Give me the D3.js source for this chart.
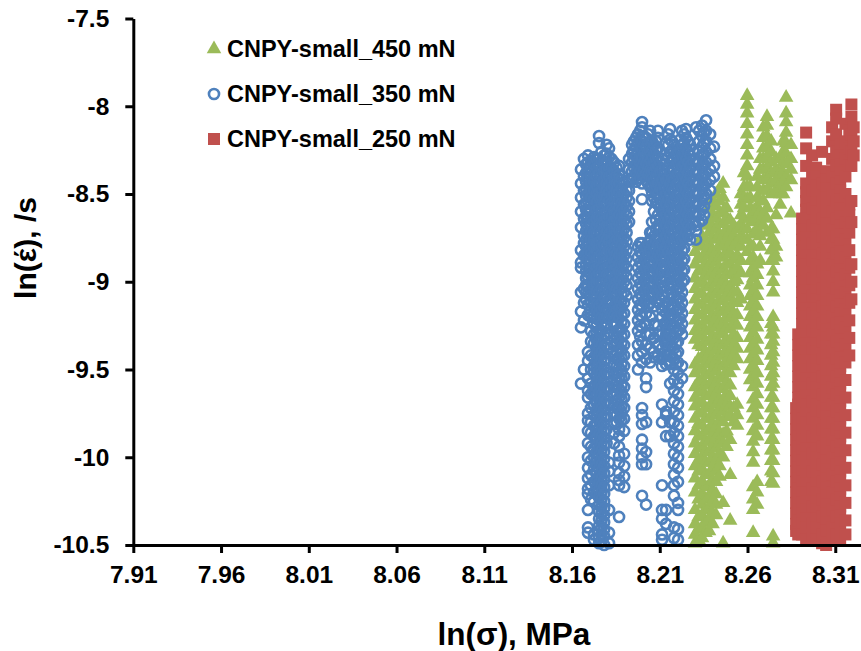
<!DOCTYPE html>
<html>
<head>
<meta charset="utf-8">
<script src="https://cdn.jsdelivr.net/npm/d3@7"></script>
<style>
body { margin: 0; background: #fff; }
text { font-family: "Liberation Sans", Arial, sans-serif; font-weight: bold; fill: #000; }
</style>
</head>
<body>
<div id="chart"></div>
<script>
// values, each row is [ln(sigma), [ln(strain rate) ...]]
var xTicks = [7.91, 7.96, 8.01, 8.06, 8.11, 8.16, 8.21, 8.26, 8.31];
var yTicks = [-7.5, -8, -8.5, -9, -9.5, -10, -10.5];
var yTickLabels = ["-7.5", "-8", "-8.5", "-9", "-9.5", "-10", "-10.5"];
var legendLabels = ["CNPY-small_450 mN", "CNPY-small_350 mN", "CNPY-small_250 mN"];

var green450 = [
  [8.2301, [-8.83,-8.9,-8.98,-9.04,-9.1,-9.16,-9.22,-9.28,-9.33,-9.47,-9.52,-9.6,-9.66,-9.71,-9.78,-9.85,-9.92,-9.98,-10.05,-10.12,-10.2,-10.3,-10.38,-10.44,-10.49]],
  [8.2321, [-8.78,-8.86,-8.94,-9.01,-9.07,-9.13,-9.19,-9.25,-9.3,-9.36,-9.44,-9.5,-9.57,-9.63,-9.69,-9.75,-9.81,-9.88,-9.95,-10.02,-10.08,-10.16,-10.24,-10.34,-10.41,-10.47]],
  [8.2341, [-8.74,-8.8,-8.87,-8.93,-9.0,-9.07,-9.13,-9.19,-9.25,-9.31,-9.37,-9.43,-9.5,-9.56,-9.62,-9.69,-9.75,-9.82,-9.88,-9.94,-10.0,-10.07,-10.14,-10.21,-10.27,-10.33,-10.4,-10.46]],
  [8.2361, [-8.68,-8.76,-8.83,-8.9,-8.96,-9.03,-9.1,-9.16,-9.22,-9.28,-9.34,-9.4,-9.46,-9.53,-9.59,-9.65,-9.72,-9.78,-9.85,-9.91,-9.97,-10.03,-10.1,-10.17,-10.24,-10.3,-10.37,-10.43]],
  [8.2381, [-8.58,-8.66,-8.72,-8.79,-8.85,-8.91,-8.97,-9.03,-9.09,-9.16,-9.22,-9.28,-9.34,-9.41,-9.47,-9.53,-9.59,-9.65,-9.72,-9.78,-9.84,-9.91,-9.97,-10.03,-10.1,-10.16,-10.22,-10.29,-10.35,-10.42]],
  [8.2401, [-8.54,-8.62,-8.69,-8.75,-8.82,-8.88,-8.94,-9.0,-9.06,-9.12,-9.19,-9.25,-9.31,-9.37,-9.44,-9.5,-9.56,-9.62,-9.68,-9.75,-9.81,-9.87,-9.94,-10.0,-10.06,-10.13,-10.19,-10.25,-10.32,-10.38]],
  [8.2421, [-8.5,-8.57,-8.64,-8.7,-8.76,-8.83,-8.89,-8.95,-9.01,-9.07,-9.14,-9.2,-9.26,-9.33,-9.39,-9.45,-9.51,-9.58,-9.64,-9.7,-9.76,-9.83,-9.89,-9.95,-10.02,-10.08,-10.14,-10.21,-10.27,-10.33]],
  [8.2441, [-8.47,-8.54,-8.61,-8.67,-8.73,-8.79,-8.86,-8.92,-8.98,-9.04,-9.1,-9.17,-9.23,-9.29,-9.36,-9.42,-9.48,-9.54,-9.61,-9.67,-9.73,-9.79,-9.86,-9.92,-9.98,-10.05,-10.11]],
  [8.2461, [-8.44,-8.52,-8.6,-8.67,-8.74,-8.8,-8.86,-8.93,-8.99,-9.05,-9.11,-9.17,-9.24,-9.3,-9.36,-9.42,-9.48,-9.55,-9.61,-9.68,-9.74,-9.8,-9.87,-9.92,-10.0,-10.26,-10.49]],
  [8.2481, [-8.58,-8.64,-8.7,-8.76,-8.83,-8.9,-8.96,-9.02,-9.08,-9.14,-9.2,-9.26,-9.33,-9.39,-9.45,-9.51,-9.57,-9.64,-9.7,-9.77,-9.85,-9.94]],
  [8.2501, [-8.65,-8.72,-8.78,-8.84,-8.9,-8.96,-9.03,-9.09,-9.15,-9.21,-9.27,-9.34,-9.4,-9.46,-9.52,-9.59,-9.65,-9.71,-9.76,-9.9,-10.1,-10.36]],
  [8.2521, [-8.68,-8.74,-8.8,-8.87,-8.94,-9.0,-9.06,-9.12,-9.18,-9.24,-9.3,-9.36,-9.42,-9.48,-9.72,-9.8]],
  [8.2541, [-8.7,-8.77,-8.85,-8.92,-8.99,-9.06,-9.12,-9.19,-9.25,-9.32,-9.38,-9.44,-9.7,-9.76,-9.82]],
  [8.2563, [-8.5,-8.56,-8.62,-8.68,-8.74,-8.8,-8.88,-8.95,-9.1]],
  [8.258, [-8.38,-8.46,-8.52,-8.58,-8.64,-8.7,-8.76]],
  [8.2598, [-7.94,-7.99,-8.04,-8.1,-8.16,-8.22,-8.28,-8.34,-8.4,-8.46,-8.53,-8.7,-8.76,-8.83]],
  [8.2615, [-8.46,-8.52,-8.58,-8.64,-8.8,-8.88,-8.95,-9.02,-9.08,-9.14,-9.2,-9.26,-9.32,-9.38,-9.44,-9.5,-9.56]],
  [8.2632, [-8.6,-8.66,-8.73,-8.8,-8.86,-8.92,-8.98,-9.05,-9.11,-9.17,-9.23,-9.29,-9.36,-9.42,-9.48,-9.54,-9.6,-9.67,-9.72,-9.78,-9.85,-9.91,-9.97,-10.03,-10.17,-10.24,-10.3,-10.43]],
  [8.2655, [-8.4,-8.46,-8.52,-8.58,-8.64,-8.7,-8.9,-8.96,-9.02,-9.08,-9.14,-9.2,-9.26,-9.33,-9.39,-9.45,-9.52,-9.58,-9.64,-9.7,-9.76,-9.82,-9.88,-10.14,-10.2,-10.27]],
  [8.2672, [-8.3,-8.36,-8.54,-8.6,-8.67,-8.74,-8.8,-8.88]],
  [8.269, [-8.12,-8.18,-8.24,-8.3,-8.36,-8.42,-8.48,-8.54,-8.62,-8.68]],
  [8.2711, [-8.06,-8.11,-8.17,-8.23,-8.29,-8.35,-8.41,-8.48,-8.58,-8.64,-8.72]],
  [8.2735, [-8.2,-8.26,-8.32,-8.38,-8.44,-8.5,-8.7,-8.76,-8.82,-8.88,-9.24,-9.3,-9.36,-9.42,-9.48,-9.54,-9.6,-9.66,-9.72,-9.78,-9.84,-9.9,-9.96,-10.02,-10.08,-10.14]],
  [8.2746, [-8.7,-8.76,-8.82,-8.88,-8.94,-9.0,-9.06,-9.2,-9.26,-9.3,-9.34,-9.4,-9.46,-9.52,-9.58,-9.66,-9.72,-9.78,-9.84,-9.9,-9.96,-10.02,-10.09,-10.15,-10.45,-10.49]],
  [8.2763, [-8.3,-8.36,-8.42,-8.48,-8.62,-8.8,-8.86]],
  [8.2786, [-8.3,-8.38,-8.44,-8.5,-8.56]],
  [8.2803, [-8.2,-8.26,-8.32,-8.38,-8.44,-8.5]],
  [8.282, [-7.95,-8.04,-8.09,-8.15,-8.21,-8.27,-8.33,-8.4,-8.46]],
  [8.2848, [-8.61,-8.22,-8.3,-8.36,-8.42]]
];

var blue350 = [
  [8.1651, [-8.36,-8.44,-8.52,-8.6,-8.69,-8.82,-8.89,-8.92,-9.06,-9.17,-9.26,-9.58]],
  [8.1668, [-8.3,-8.4,-8.48,-8.56,-8.64,-8.74,-8.78,-8.85,-9.04,-9.12,-9.22,-9.5]],
  [8.168, [-8.33,-8.38,-8.43,-8.47,-8.51,-8.55,-8.59,-8.63,-8.67,-8.71,-8.76,-8.8,-8.84,-8.9,-8.94,-8.98,-9.02,-9.06,-9.1]],
  [8.1691, [-8.28,-8.32,-8.36,-8.41,-8.45,-8.5,-8.54,-8.6,-8.64,-8.69,-8.74,-8.78,-8.83,-8.87,-8.92,-8.97,-9.03,-9.07,-9.13,-9.19,-9.4,-9.45,-9.55,-9.62,-9.66,-9.75,-9.79,-9.85,-9.92,-10.0,-10.06,-10.12,-10.18,-10.21,-10.3,-10.4,-10.43]],
  [8.1708, [-8.31,-8.35,-8.4,-8.44,-8.48,-8.52,-8.56,-8.6,-8.64,-8.68,-8.72,-8.76,-8.8,-8.84,-8.88,-8.92,-8.96,-9.0,-9.04,-9.08,-9.12,-9.16,-9.2,-9.28,-9.34,-9.42,-9.5,-9.58,-9.64,-9.72,-9.8,-9.86,-9.94,-10.02,-10.1,-10.16,-10.24]],
  [8.1725, [-8.29,-8.33,-8.39,-8.43,-8.48,-8.53,-8.57,-8.62,-8.66,-8.72,-8.76,-8.81,-8.85,-8.9,-8.96,-9.02,-9.08,-9.12,-9.19,-9.24,-9.3,-9.35,-9.43,-9.48,-9.52,-9.6,-9.64,-9.7,-9.76,-9.82,-9.88,-9.95,-10.0,-10.07,-10.14,-10.2,-10.25,-10.44,-10.47]],
  [8.174, [-8.3,-8.35,-8.4,-8.45,-8.5,-8.55,-8.59,-8.64,-8.68,-8.73,-8.78,-8.82,-8.87,-8.92,-8.97,-9.01,-9.05,-9.09,-9.13,-9.17,-9.21,-9.25,-9.29,-9.33,-9.37,-9.41,-9.45,-9.49,-9.53,-9.57,-9.61,-9.65,-9.69,-9.73,-9.77,-9.81,-9.85,-9.89,-9.93,-9.97,-10.01,-10.05,-10.09,-10.13,-10.17,-10.21]],
  [8.1754, [-8.17,-8.21,-8.3,-8.34,-8.38,-8.44,-8.49,-8.52,-8.58,-8.63,-8.67,-8.71,-8.77,-8.8,-8.86,-8.91,-8.95,-9.0,-9.06,-9.14,-9.18,-9.22,-9.28,-9.34,-9.38,-9.42,-9.47,-9.51,-9.55,-9.59,-9.63,-9.67,-9.71,-9.75,-9.79,-9.83,-9.87,-9.91,-9.95,-9.99,-10.03,-10.07,-10.11,-10.15,-10.19,-10.23,-10.27,-10.31,-10.35,-10.39,-10.42,-10.46,-10.49]],
  [8.1768, [-8.26,-8.31,-8.36,-8.4,-8.44,-8.48,-8.52,-8.56,-8.6,-8.64,-8.68,-8.72,-8.76,-8.8,-8.84,-8.88,-8.92,-8.96,-9.0,-9.04,-9.08,-9.12,-9.16,-9.2,-9.24,-9.28,-9.32,-9.36,-9.4,-9.44,-9.48,-9.52,-9.56,-9.6,-9.64,-9.68,-9.72,-9.76,-9.8,-9.84,-9.88,-9.92,-9.96,-10.0,-10.04,-10.08,-10.12,-10.16,-10.2,-10.24,-10.28,-10.32,-10.36,-10.4,-10.44,-10.48]],
  [8.1783, [-8.28,-8.33,-8.37,-8.42,-8.46,-8.51,-8.55,-8.61,-8.65,-8.7,-8.75,-8.79,-8.84,-8.88,-8.93,-8.98,-9.04,-9.09,-9.15,-9.2,-9.26,-9.31,-9.37,-9.41,-9.45,-9.49,-9.53,-9.57,-9.61,-9.65,-9.69,-9.73,-9.77,-9.81,-9.85,-9.89,-9.93,-9.97,-10.01,-10.05,-10.09,-10.13,-10.17,-10.21,-10.25,-10.29,-10.33,-10.37,-10.41,-10.45,-10.5]],
  [8.1797, [-8.22,-8.27,-8.32,-8.36,-8.4,-8.44,-8.48,-8.52,-8.56,-8.6,-8.64,-8.68,-8.72,-8.76,-8.8,-8.84,-8.88,-8.92,-8.96,-9.0,-9.04,-9.08,-9.12,-9.16,-9.2,-9.24,-9.3,-9.36,-9.44,-9.52,-9.6,-9.68,-9.76,-9.84,-9.92]],
  [8.1811, [-8.24,-8.29,-8.35,-8.4,-8.45,-8.49,-8.54,-8.59,-8.63,-8.68,-8.73,-8.77,-8.82,-8.87,-8.91,-8.96,-9.01,-9.05,-9.1,-9.16,-9.21,-9.29,-9.38,-9.52,-9.61,-9.7,-10.03,-10.08,-10.16,-10.3,-10.43,-10.49]],
  [8.1825, [-8.3,-8.35,-8.39,-8.43,-8.47,-8.51,-8.55,-8.59,-8.63,-8.67,-8.71,-8.75,-8.79,-8.83,-8.87,-8.91,-8.95,-8.99,-9.03,-9.07,-9.11,-9.15,-9.19]],
  [8.184, [-8.32,-8.37,-8.41,-8.46,-8.5,-8.55,-8.6,-8.65,-8.69,-8.74,-8.78,-8.83,-8.88,-8.93,-8.98,-9.03,-9.08,-9.14,-9.19,-9.25,-9.3,-9.36,-9.42,-9.47,-9.53,-9.59,-9.64,-9.7,-9.75,-9.81,-9.86,-9.92]],
  [8.1854, [-8.35,-8.4,-8.44,-8.48,-8.52,-8.56,-8.6,-8.64,-8.68,-8.72,-8.76,-8.8,-8.84,-8.88,-8.92,-8.96,-9.0,-9.04,-9.08,-9.12,-9.16,-9.2,-9.24,-9.28,-9.32,-9.36,-9.4,-9.44,-9.48,-9.52,-9.56,-9.6,-9.64,-9.68,-9.72,-9.76,-9.8]],
  [8.1868, [-8.34,-8.39,-8.44,-8.49,-8.53,-8.58,-8.62,-8.67,-8.71,-8.76,-8.81,-8.85,-8.9,-8.94,-8.99,-9.05,-9.1,-9.15,-9.21,-9.27,-9.33,-9.38,-9.44,-9.49,-9.55,-9.61,-9.66,-9.72,-9.78,-9.84,-9.88,-9.94,-9.99,-10.03,-10.09,-10.13,-10.16,-10.34]],
  [8.1882, [-8.42,-8.47,-8.51,-8.55,-8.59,-8.63,-8.67,-8.71,-8.75,-8.79,-8.83,-8.87,-8.91,-8.95,-8.99,-9.03,-9.07,-9.11,-9.15,-9.19,-9.23,-9.27,-9.31,-9.35,-9.39,-9.43,-9.47,-9.51,-9.55,-9.59,-9.63,-9.67,-9.71,-9.75,-9.79]],
  [8.1897, [-8.44,-8.5,-8.55,-8.6,-8.65,-8.7,-8.75,-8.8,-8.85,-8.9,-8.95,-9.0,-9.06,-9.12,-9.18,-9.24,-9.3,-9.36,-9.42,-9.48,-9.54,-9.6,-9.66,-9.72,-9.78,-9.85,-9.98,-10.05,-10.11,-10.17]],
  [8.1911, [-8.48,-8.52,-8.57,-8.62,-8.67,-8.72,-8.77,-8.82,-8.87,-8.92,-8.97,-9.02,-9.08]],
  [8.1925, [-8.3,-8.36,-8.42,-8.48,-8.54,-8.6,-8.66]],
  [8.1942, [-8.22,-8.27,-8.32,-8.37,-8.42]],
  [8.1953, [-8.2,-8.25,-8.3,-8.35,-8.4]],
  [8.1965, [-8.18,-8.23,-8.28,-8.33,-8.38,-8.43]],
  [8.1976, [-8.16,-8.21,-8.26,-8.31,-8.36,-8.41,-8.8,-8.86,-8.92,-8.98,-9.04,-9.1,-9.16,-9.22,-9.28,-9.36,-9.42,-9.5]],
  [8.1988, [-8.14,-8.19,-8.24,-8.29,-8.33,-8.37,-8.41,-8.78,-8.83,-8.89,-8.95,-9.01,-9.07,-9.13,-9.19,-9.25,-9.31]],
  [8.1999, [-8.09,-8.12,-8.2,-8.24,-8.29,-8.34,-8.39,-8.44,-8.53,-8.78,-8.84,-8.9,-8.96,-9.02,-9.08,-9.14,-9.2,-9.26,-9.34,-9.4,-9.46,-9.72,-9.76,-9.81,-9.9,-9.95,-10.0,-10.04,-10.22]],
  [8.201, [-8.17,-8.22,-8.27,-8.32,-8.36,-8.4,-8.81,-8.87,-8.93,-8.99,-9.05,-9.11]],
  [8.2022, [-8.18,-8.23,-8.28,-8.33,-8.38,-8.42,-8.8,-8.86,-8.92,-8.98,-9.04,-9.1,-9.18,-9.24,-9.3,-9.36,-9.44,-9.55,-9.6,-9.8,-9.97,-10.04,-10.27]],
  [8.2033, [-8.16,-8.21,-8.26,-8.3,-8.35,-8.39,-8.44,-8.78,-8.84,-8.9,-8.96,-9.02,-9.08,-9.14]],
  [8.2045, [-8.14,-8.2,-8.26,-8.31,-8.36,-8.41,-8.46,-8.72,-8.76,-8.82,-8.88,-8.94,-9.0,-9.06,-9.12,-9.2,-9.3,-9.38,-9.46]],
  [8.2056, [-8.2,-8.25,-8.29,-8.33,-8.37,-8.41,-8.45,-8.49,-8.54,-8.66,-8.72,-8.79,-8.85,-8.91,-8.97,-9.03,-9.09]],
  [8.2067, [-8.22,-8.27,-8.32,-8.37,-8.42,-8.47,-8.52,-8.6,-8.74,-8.8,-8.85,-8.9,-8.96,-9.02,-9.08,-9.14,-9.24,-9.32,-9.4,-9.43]],
  [8.2079, [-8.2,-8.25,-8.3,-8.35,-8.4,-8.45,-8.5,-8.55,-8.65,-8.7,-8.76,-8.82,-8.87,-8.93,-8.99,-9.05,-9.11]],
  [8.209, [-8.14,-8.18,-8.24,-8.29,-8.34,-8.39,-8.44,-8.5,-8.56,-8.62,-8.68,-8.74,-8.79,-8.84,-8.9,-8.96,-9.02,-9.06,-9.12,-9.25,-9.3,-9.36,-9.42]],
  [8.2102, [-8.26,-8.32,-8.37,-8.42,-8.47,-8.52,-8.58,-8.64,-8.7,-8.76,-8.81,-8.86,-8.92,-8.98,-9.04,-9.1]],
  [8.2113, [-8.3,-8.36,-8.42,-8.48,-8.54,-8.6,-8.66,-8.72,-8.78,-8.83,-8.88,-8.94,-9.0,-9.08,-9.16,-9.2,-9.3,-9.38,-9.44,-9.48,-9.7,-9.8,-10.16,-10.3,-10.35,-10.44,-10.47]],
  [8.2125, [-8.33,-8.39,-8.45,-8.51,-8.57,-8.63,-8.69,-8.75,-8.81,-8.86,-8.91,-8.97,-9.03,-9.14,-9.24,-9.33]],
  [8.2136, [-8.42,-8.5,-8.56,-8.62,-8.68,-8.74,-8.8,-8.86,-8.92,-8.98,-9.12,-9.18,-9.24,-9.3,-9.36,-9.42,-9.47,-9.74,-9.76,-9.88,-10.3,-10.38]],
  [8.2148, [-8.16,-8.22,-8.29,-8.35,-8.41,-8.47,-8.53,-8.59,-8.65,-8.71,-8.77,-8.83,-8.89,-8.95,-9.01,-9.07,-9.14,-9.21,-9.27,-9.33,-9.39,-9.45]],
  [8.2159, [-8.13,-8.19,-8.26,-8.32,-8.38,-8.44,-8.5,-8.56,-8.62,-8.68,-8.74,-8.8,-8.86,-8.92,-8.98,-9.04,-9.1,-9.16,-9.2,-9.24,-9.3,-9.36,-9.42,-9.47,-9.58,-9.8,-9.88]],
  [8.217, [-8.2,-8.25,-8.3,-8.35,-8.41,-8.47,-8.53,-8.59,-8.65,-8.71,-8.77,-8.83,-8.89,-8.95,-9.01,-9.07,-9.13,-9.19,-9.25,-9.31,-9.37,-9.43]],
  [8.2181, [-8.22,-8.3,-8.36,-8.42,-8.48,-8.54,-8.6,-8.66,-8.72,-8.78,-8.84,-8.9,-8.96,-9.02,-9.08,-9.14,-9.2,-9.26,-9.32,-9.38,-9.44,-9.5,-9.56,-9.62,-9.68,-9.74,-9.8,-9.86,-9.92,-9.98,-10.04,-10.1,-10.16,-10.22,-10.4,-10.46]],
  [8.2193, [-8.27,-8.33,-8.39,-8.45,-8.51,-8.57,-8.63,-8.69,-8.75,-8.81,-8.87,-8.93,-8.99,-9.05,-9.11,-9.17,-9.23,-9.29,-9.35,-9.41,-9.47]],
  [8.2204, [-8.26,-8.32,-8.38,-8.44,-8.5,-8.56,-8.62,-8.68,-8.74,-8.8,-8.86,-8.92,-8.98,-9.04,-9.1,-9.16,-9.22,-9.28,-9.34,-9.4,-9.46,-9.52,-9.58,-9.64,-9.7,-9.76,-9.82,-9.88,-9.94,-10.0,-10.06,-10.14,-10.26,-10.3,-10.41,-10.47]],
  [8.2216, [-8.19,-8.25,-8.31,-8.37,-8.43,-8.49,-8.55,-8.61,-8.67,-8.73,-8.79,-8.85,-8.91,-8.97,-9.03,-9.09,-9.15,-9.21,-9.27]],
  [8.2227, [-8.14,-8.22,-8.28,-8.34,-8.4,-8.46,-8.52,-8.58,-8.64,-8.7,-8.76,-8.82,-8.88,-8.94,-9.0,-9.06,-9.12,-9.18,-9.24,-9.3,-9.48,-9.55]],
  [8.2239, [-8.16,-8.21,-8.27,-8.33,-8.39,-8.45,-8.51,-8.57,-8.63,-8.69,-8.75,-8.81,-8.87,-8.93,-8.99]],
  [8.225, [-8.13,-8.18,-8.24,-8.3,-8.36,-8.42,-8.48,-8.54,-8.6,-8.66,-8.72]],
  [8.2261, [-8.2,-8.26,-8.32,-8.38,-8.44,-8.5,-8.56,-8.62,-8.68,-8.74]],
  [8.2273, [-8.22,-8.28,-8.34,-8.4,-8.46,-8.52,-8.58,-8.64,-8.7,-8.76]],
  [8.229, [-8.25,-8.31,-8.37,-8.43,-8.49,-8.55,-8.61,-8.67]],
  [8.2307, [-8.12,-8.32,-8.38,-8.44,-8.5,-8.56,-8.62,-8.68,-8.71,-8.76]],
  [8.2324, [-8.14,-8.2,-8.26,-8.32,-8.38,-8.44,-8.5,-8.56,-8.62,-8.66]],
  [8.2341, [-8.11,-8.17,-8.23,-8.29,-8.35,-8.41,-8.47,-8.53,-8.59,-8.65]],
  [8.2352, [-8.15,-8.21,-8.27,-8.33,-8.39,-8.45,-8.51,-8.57,-8.62]],
  [8.2364, [-8.08,-8.14,-8.2,-8.26,-8.32,-8.38,-8.44,-8.5,-8.53]],
  [8.2387, [-8.16,-8.24,-8.3,-8.36,-8.42,-8.48]],
  [8.2409, [-8.23,-8.34,-8.4]]
];

var red250 = [
  [8.2877, [-9.72,-9.78,-9.84,-9.9,-9.96,-10.02,-10.08,-10.14,-10.2,-10.26,-10.32,-10.38,-10.42]],
  [8.2889, [-9.3,-9.36,-9.42,-9.48,-9.54,-9.6,-9.66,-9.7,-9.76,-9.82,-9.88,-9.94,-10.0,-10.06,-10.12,-10.18,-10.24,-10.3,-10.36,-10.44]],
  [8.2911, [-8.64,-8.7,-8.76,-8.82,-8.88,-8.94,-9.0,-9.06,-9.12,-9.18,-9.24,-9.3,-9.36,-9.42,-9.48,-9.54,-9.6,-9.66,-9.72,-9.78,-9.84,-9.9,-9.96,-10.02,-10.08,-10.14,-10.2,-10.26,-10.32,-10.38,-10.44]],
  [8.2934, [-8.15,-8.24,-8.34,-8.44,-8.49,-8.54,-8.59,-8.64,-8.7,-8.75,-8.8,-8.85,-8.9,-8.95,-9.0,-9.05,-9.1,-9.15,-9.2,-9.25,-9.3,-9.35,-9.4,-9.45,-9.5,-9.55,-9.6,-9.65,-9.7,-9.75,-9.8,-9.85,-9.9,-9.95,-10.0,-10.05,-10.1,-10.15,-10.2,-10.25,-10.3,-10.35,-10.4,-10.47]],
  [8.2968, [-8.28,-8.38,-8.48,-8.58,-8.68,-8.78,-8.88,-8.98,-9.08,-9.18,-9.28,-9.38,-9.48,-9.58,-9.68,-9.78,-9.88,-9.98,-10.08,-10.18,-10.28,-10.38,-10.46]],
  [8.2991, [-8.35,-8.4,-8.45,-8.5,-8.55,-8.6,-8.65,-8.7,-8.75,-8.8,-8.85,-8.9,-8.95,-9.0,-9.05,-9.1,-9.15,-9.2,-9.25,-9.3,-9.35,-9.4,-9.45,-9.5,-9.55,-9.6,-9.65,-9.7,-9.75,-9.8,-9.85,-9.9,-9.95,-10.0,-10.05,-10.1,-10.15,-10.2,-10.25,-10.3,-10.35,-10.4,-10.47]],
  [8.3025, [-8.26,-8.44,-8.54,-8.64,-8.74,-8.84,-8.94,-9.04,-9.14,-9.24,-9.34,-9.44,-9.54,-9.64,-9.74,-9.84,-9.94,-10.04,-10.14,-10.24,-10.34,-10.44,-10.49]],
  [8.3048, [-8.37,-8.42,-8.47,-8.52,-8.57,-8.62,-8.67,-8.72,-8.77,-8.82,-8.87,-8.92,-8.97,-9.02,-9.07,-9.12,-9.17,-9.22,-9.27,-9.32,-9.37,-9.42,-9.47,-9.52,-9.57,-9.62,-9.67,-9.72,-9.77,-9.82,-9.87,-9.92,-9.97,-10.02,-10.07,-10.12,-10.17,-10.22,-10.27,-10.32,-10.37,-10.42,-10.5]],
  [8.3082, [-8.12,-8.2,-8.3,-8.4,-8.5,-8.6,-8.7,-8.8,-8.9,-9.0,-9.1,-9.2,-9.3,-9.4,-9.5,-9.6,-9.7,-9.8,-9.9,-10.0,-10.1,-10.2,-10.3,-10.4,-10.46]],
  [8.3105, [-8.02,-8.07,-8.16,-8.26,-8.34,-8.44,-8.54,-8.64,-8.74,-8.84,-8.94,-9.04,-9.14,-9.24,-9.34,-9.44,-9.54,-9.64,-9.74,-9.84,-9.94,-10.04,-10.14,-10.24,-10.34,-10.44]],
  [8.3128, [-8.22,-8.28,-8.33,-8.38,-8.43,-8.48,-8.53,-8.58,-8.63,-8.68,-8.73,-8.78,-8.83,-8.88,-8.93,-8.98,-9.03,-9.08,-9.13,-9.18,-9.23,-9.28,-9.33,-9.38,-9.43,-9.48,-9.53,-9.58,-9.63,-9.68,-9.73,-9.78,-9.83,-9.88,-9.93,-9.98,-10.03,-10.08,-10.13,-10.18,-10.23,-10.28,-10.33,-10.38,-10.46]],
  [8.3158, [-8.1,-8.2,-8.3,-8.4,-8.5,-8.66,-8.76,-8.86,-8.96,-9.06,-9.16,-9.26,-9.36,-9.46,-9.56,-9.66,-9.76,-9.86,-9.96,-10.06,-10.16,-10.26,-10.36,-10.44]],
  [8.318, [-8.14,-8.24,-8.34,-8.56,-8.62,-8.72,-8.82,-8.92,-9.02,-9.12,-9.22,-9.32,-9.42]],
  [8.3192, [-7.99,-8.06,-8.16,-8.26,-8.34,-8.54,-8.66,-8.9,-9.0,-9.1]],
  [8.3205, [-8.12,-8.2,-8.28]]
];

var svgWidth = 861, svgHeight = 651;

var svg = d3.select("#chart")
  .append("svg")
  .attr("width", svgWidth)
  .attr("height", svgHeight)
  .style("display", "block");

// x axis runs on past the right edge of the picture
var xScale = d3.scaleLinear().domain([7.91, 8.36]).range([133.3, 923]);
var yScale = d3.scaleLinear().domain([-10.5, -7.5]).range([545, 18.5]);

function flat(rows) {
  return rows.flatMap(function(r) {
    return r[1].map(function(y) { return { x: r[0], y: y }; });
  });
}

var triangle = d3.symbol().type(d3.symbolTriangle).size(92)();
var square = d3.symbol().type(d3.symbolSquare).size(144)();
var circle = d3.symbol().type(d3.symbolCircle).size(80)();

var styles = [
  { rows: green450, path: triangle, fill: "#9BBB59", stroke: "none", sw: 0 },
  { rows: blue350, path: circle, fill: "none", stroke: "#4F81BD", sw: 2.6 },
  { rows: red250, path: square, fill: "#C0504D", stroke: "none", sw: 0 }
];

styles.forEach(function(s) {
  svg.append("g").selectAll("path")
    .data(flat(s.rows))
    .enter()
    .append("path")
    .attr("d", s.path)
    .attr("transform", function(d) { return "translate(" + xScale(d.x) + "," + yScale(d.y) + ")"; })
    .attr("fill", s.fill)
    .attr("stroke", s.stroke)
    .attr("stroke-width", s.sw);
});

// axes
var xAxis = d3.axisBottom(xScale)
  .tickValues(xTicks)
  .tickFormat(d3.format(".2f"))
  .tickSizeInner(8)
  .tickSizeOuter(0)
  .tickPadding(13);
var yAxis = d3.axisLeft(yScale)
  .tickValues(yTicks)
  .tickFormat(function(d, i) { return yTickLabels[i]; })
  .tickSizeInner(8)
  .tickSizeOuter(0)
  .tickPadding(16);

var xG = svg.append("g").attr("transform", "translate(0,545)").call(xAxis);
var yG = svg.append("g").attr("transform", "translate(133.3,0)").call(yAxis);

[xG, yG].forEach(function(g) {
  g.selectAll("path, line").attr("stroke", "#000").attr("stroke-width", 3);
  g.selectAll("text").attr("font-size", 24.5).attr("font-family", null);
});

// legend
legendLabels.forEach(function(label, i) {
  var ly = 49 + i * 45;
  svg.append("path")
    .attr("d", styles[i].path)
    .attr("transform", "translate(214," + ly + ")")
    .attr("fill", styles[i].fill)
    .attr("stroke", styles[i].stroke)
    .attr("stroke-width", styles[i].sw);
  svg.append("text")
    .attr("x", 227)
    .attr("y", ly + 8)
    .attr("font-size", 23.5)
    .text(label);
});

// axis titles
svg.append("text")
  .attr("x", 514)
  .attr("y", 645)
  .attr("text-anchor", "middle")
  .attr("font-size", 31.5)
  .text("ln(σ), MPa");

svg.append("text")
  .attr("transform", "translate(36,248) rotate(-90)")
  .attr("text-anchor", "middle")
  .attr("font-size", 30)
  .text("ln(έ), /s");
</script>
</body>
</html>
